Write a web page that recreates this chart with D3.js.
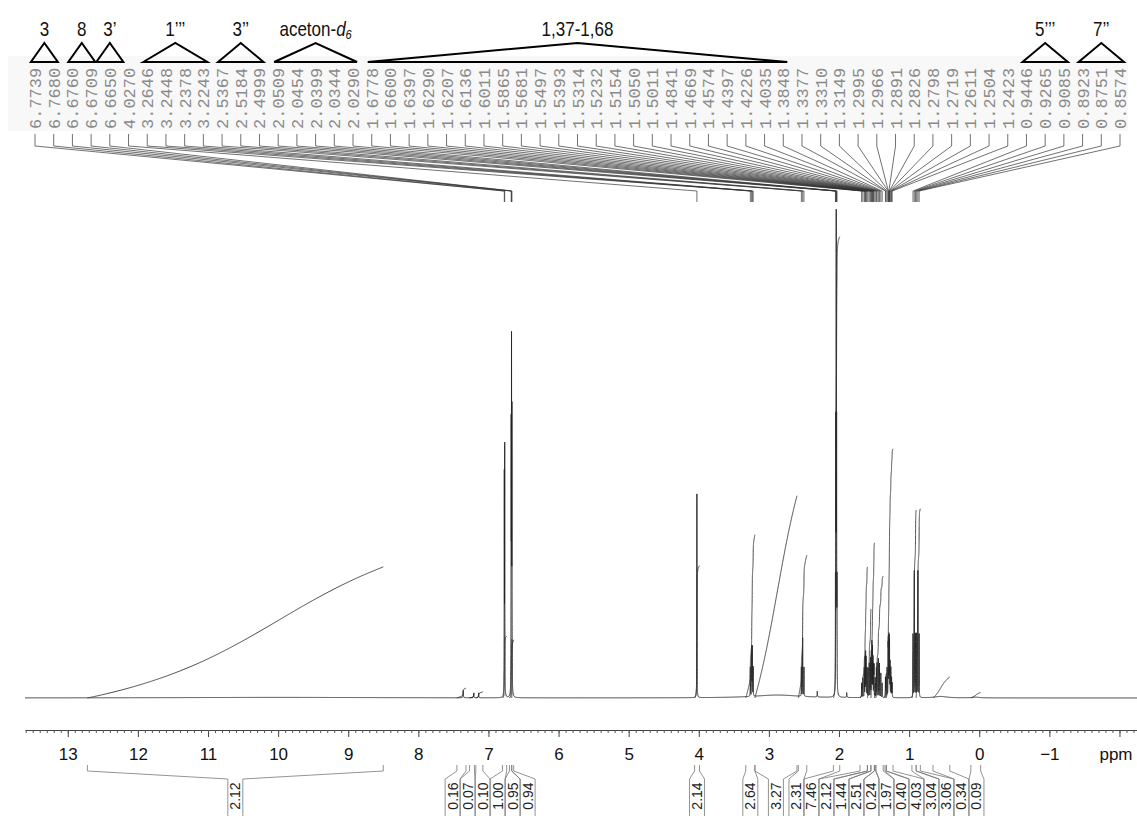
<!DOCTYPE html>
<html>
<head>
<meta charset="utf-8">
<script src="https://d3js.org/d3.v7.min.js"></script>
<style>
  body { margin: 0; background: #fff; }
  svg { display: block; }
</style>
</head>
<body>
<script>
  const width = 1137,
      height = 816;

  // peak list printed above the spectrum (ppm) and line heights (acetone = 100)
  const peakPpm = [6.7739, 6.7680, 6.6760, 6.6709, 6.6650, 4.0270, 3.2646, 3.2448, 3.2378, 3.2243,
      2.5367, 2.5184, 2.4999, 2.0509, 2.0454, 2.0399, 2.0344, 2.0290, 1.6778, 1.6600, 1.6397, 1.6290,
      1.6207, 1.6136, 1.6011, 1.5865, 1.5681, 1.5497, 1.5393, 1.5314, 1.5232, 1.5154, 1.5050, 1.5011,
      1.4841, 1.4669, 1.4574, 1.4397, 1.4226, 1.4035, 1.3848, 1.3377, 1.3310, 1.3149, 1.2995, 1.2966,
      1.2891, 1.2826, 1.2798, 1.2719, 1.2611, 1.2504, 1.2423, 0.9446, 0.9265, 0.9085, 0.8923, 0.8751, 0.8574];
  const peakHeight = [44, 50, 52, 68, 56, 42, 6, 10, 10, 6,
      6, 12, 6, 20, 50, 93, 50, 20, 3, 4, 6, 8,
      9, 8, 6, 6, 7, 8, 9, 11, 10, 8, 6, 6,
      4, 6, 7, 8, 7, 5, 3, 4, 4, 6, 9, 10,
      12, 10, 9, 7, 6, 4, 3, 13, 26, 13, 13, 26, 13];
  const lineWidth = 0.0015;

  // small unlisted lines and broad humps (ppm, height, half width)
  const minorPpm = [7.36, 7.21, 7.14, 2.31, 1.89];
  const minorHeight = [1.5, 1.0, 1.0, 1.2, 1.0];
  const broadPpm = [10.0, 2.88, 0.55, 0.05];
  const broadHeight = [0.12, 0.6, 0.3, 0.15];
  const broadWidth = [2.0, 0.4, 0.1, 0.06];

  // integral regions and values
  const integralFrom = [12.72, 7.45, 7.27, 7.18, 6.80, 6.70, 6.668, 4.06, 3.33, 3.20, 2.58, 2.08,
      1.70, 1.595, 1.545, 1.495, 1.475, 1.345, 1.325, 0.96, 0.90, 0.66, 0.12];
  const integralTo = [8.50, 7.32, 7.20, 7.08, 6.74, 6.668, 6.64, 3.99, 3.20, 2.60, 2.46, 1.99,
      1.595, 1.545, 1.495, 1.475, 1.37, 1.325, 1.23, 0.90, 0.84, 0.42, -0.02];
  const integralValues = [2.12, 0.16, 0.07, 0.10, 1.00, 0.95, 0.94, 2.14, 2.64, 3.27, 2.31, 7.46,
      2.12, 1.44, 2.51, 0.24, 1.97, 0.40, 4.03, 3.04, 3.06, 0.34, 0.09];
  const integralScale = 12.75;

  // assignments over the peak list (first / last label index)
  const groupLabels = ["3", "8", "3\u2019", "1\u2019\u2019\u2019", "3\u2019\u2019", "aceton-", "1,37-1,68", "5\u2019\u2019\u2019", "7\u2019\u2019"];
  const groupFirst = [0, 2, 4, 6, 10, 13, 18, 53, 56];
  const groupLast = [1, 3, 4, 9, 12, 17, 40, 55, 58];

  const axisTicks = d3.range(-2, 14);

  const svg = d3.select("body").append("svg").attr("width", width).attr("height", height);
  const font = "'Liberation Sans', Arial, sans-serif";

  const x = d3.scaleLinear().domain([13.61, -2.25]).range([25, 1137]);
  const y = d3.scaleLinear().domain([0, 100]).range([698, 213]);

  const lines = [];
  peakPpm.forEach((p, i) => lines.push({ p: p, h: peakHeight[i], w: lineWidth }));
  minorPpm.forEach((p, i) => lines.push({ p: p, h: minorHeight[i], w: lineWidth * 2 }));
  broadPpm.forEach((p, i) => lines.push({ p: p, h: broadHeight[i], w: broadWidth[i] }));

  function spec(v) {
      let s = 0;
      for (const l of lines) {
          const d = (v - l.p) / l.w;
          s += l.h / (1 + d * d);
      }
      return s;
  }

  function area(v) {
      let s = 0;
      for (const l of lines) s += l.h * l.w * Math.atan((v - l.p) / l.w);
      return s;
  }

  function samples(a, b, step) {
      const pts = d3.range(a, b, -step);
      pts.push(b);
      lines.forEach(l => {
          if (l.w > 0.01) return;
          for (let k = -50; k <= 50; k++) {
              const v = l.p + k * 0.0003;
              if (v <= a && v >= b) pts.push(v);
          }
      });
      return pts.sort((m, n) => n - m);
  }

  // top peak list
  const col = d3.scalePoint().domain(d3.range(peakPpm.length)).range([35, 1120]);
  svg.append("rect")
      .attr("x", 8).attr("y", 56)
      .attr("width", 1120).attr("height", 75)
      .attr("fill", "#f8f8f8");

  svg.append("g").selectAll("text")
      .data(peakPpm)
      .join("text")
      .attr("transform", (d, i) => `translate(${col(i) + 6},129) rotate(-90)`)
      .attr("font-family", "'Liberation Mono', 'DejaVu Sans Mono', monospace")
      .attr("font-size", 17)
      .attr("fill", "#8a8a8a")
      .text(d => d.toFixed(4));

  svg.append("g").selectAll("path")
      .data(peakPpm)
      .join("path")
      .attr("d", (d, i) => `M${col(i)},134V146L${x(d)},191V202`)
      .attr("fill", "none")
      .attr("stroke", "#333")
      .attr("stroke-width", 0.7);

  // assignment triangles
  groupLabels.forEach((g, i) => {
      const xm = (col(groupFirst[i]) + col(groupLast[i])) / 2,
          half = Math.max((col(groupLast[i]) - col(groupFirst[i])) / 2 + 4, 13.5);
      svg.append("path")
          .attr("d", `M${xm - half},62L${xm},43L${xm + half},62Z`)
          .attr("fill", "none")
          .attr("stroke", "#000")
          .attr("stroke-width", 2);
      const t = svg.append("text")
          .attr("transform", `translate(${xm},36) scale(0.85,1)`)
          .attr("text-anchor", "middle")
          .attr("font-family", font)
          .attr("font-size", 20)
          .attr("fill", "#111")
          .text(g);
      if (g === "aceton-") {
          t.append("tspan").attr("font-style", "italic").text("d");
          t.append("tspan").attr("font-style", "italic").attr("font-size", 13).attr("dy", 3).text("6");
      }
  });

  // spectrum
  const pts = samples(13.61, -2.25, 0.004);
  svg.append("path")
      .datum(pts)
      .attr("fill", "none")
      .attr("stroke", "#222")
      .attr("stroke-width", 0.9)
      .attr("d", d3.line().x(d => x(d)).y(d => y(spec(d))));

  // integral curves
  integralFrom.forEach((a, i) => {
      const b = integralTo[i];
      const total = area(a) - area(b);
      const top = integralValues[i] * integralScale;
      const ip = samples(a, b, (a - b) / 300);
      svg.append("path")
          .datum(ip)
          .attr("fill", "none")
          .attr("stroke", "#333")
          .attr("stroke-width", 0.9)
          .attr("d", d3.line().x(d => x(d)).y(d => y((area(a) - area(d)) / total * top)));
  });

  // axis
  const axis = svg.append("g")
      .attr("transform", "translate(0,730)")
      .call(d3.axisBottom(x)
          .tickValues(axisTicks)
          .tickSize(7)
          .tickSizeOuter(0)
          .tickPadding(11)
          .tickFormat(d => d === -2 ? "" : d3.format("d")(d)));
  axis.select(".domain").attr("stroke", "#444");
  axis.selectAll(".tick line").attr("stroke", "#444");
  axis.selectAll(".tick text")
      .attr("font-family", font)
      .attr("font-size", 17)
      .attr("fill", "#111");
  svg.append("g")
      .attr("transform", "translate(0,730)")
      .call(d3.axisBottom(x)
          .tickValues(d3.range(-22, 137).map(v => v / 10))
          .tickSize(3)
          .tickSizeOuter(0)
          .tickFormat(""))
      .call(g => g.select(".domain").remove())
      .selectAll(".tick line").attr("stroke", "#555");
  svg.append("text")
      .attr("x", 1116).attr("y", 760)
      .attr("text-anchor", "middle")
      .attr("font-family", font)
      .attr("font-size", 17)
      .attr("fill", "#111")
      .text("ppm");

  // integral labels: spread them apart around their regions
  const gap = 15;
  const targets = integralFrom.map((a, i) => (x(a) + x(integralTo[i])) / 2);
  const clusters = [];
  targets.forEach((t, i) => {
      clusters.push({ idx: [i], sum: t, start: t });
      while (clusters.length > 1) {
          const cur = clusters[clusters.length - 1],
              prev = clusters[clusters.length - 2];
          if (prev.start + prev.idx.length * gap > cur.start) {
              prev.idx = prev.idx.concat(cur.idx);
              prev.sum += cur.sum;
              prev.start = prev.sum / prev.idx.length - (prev.idx.length - 1) * gap / 2;
              clusters.pop();
          } else break;
      }
  });
  const labelX = [];
  clusters.forEach(c => c.idx.forEach((k, j) => labelX[k] = c.start + j * gap));

  const ig = svg.append("g").attr("fill", "none").attr("stroke", "#777").attr("stroke-width", 0.8);
  integralValues.forEach((v, i) => {
      const xa = x(integralFrom[i]),
          xb = x(integralTo[i]),
          lx = labelX[i];
      ig.append("path")
          .attr("d", `M${xa},765V771L${lx - gap / 2},779V816M${xb},765V771L${lx + gap / 2},779V816`);
      svg.append("text")
          .attr("transform", `translate(${lx + 5},796) rotate(-90)`)
          .attr("text-anchor", "middle")
          .attr("font-family", font)
          .attr("font-size", 14)
          .attr("fill", "#222")
          .text(v.toFixed(2));
  });
</script>
</body>
</html>
